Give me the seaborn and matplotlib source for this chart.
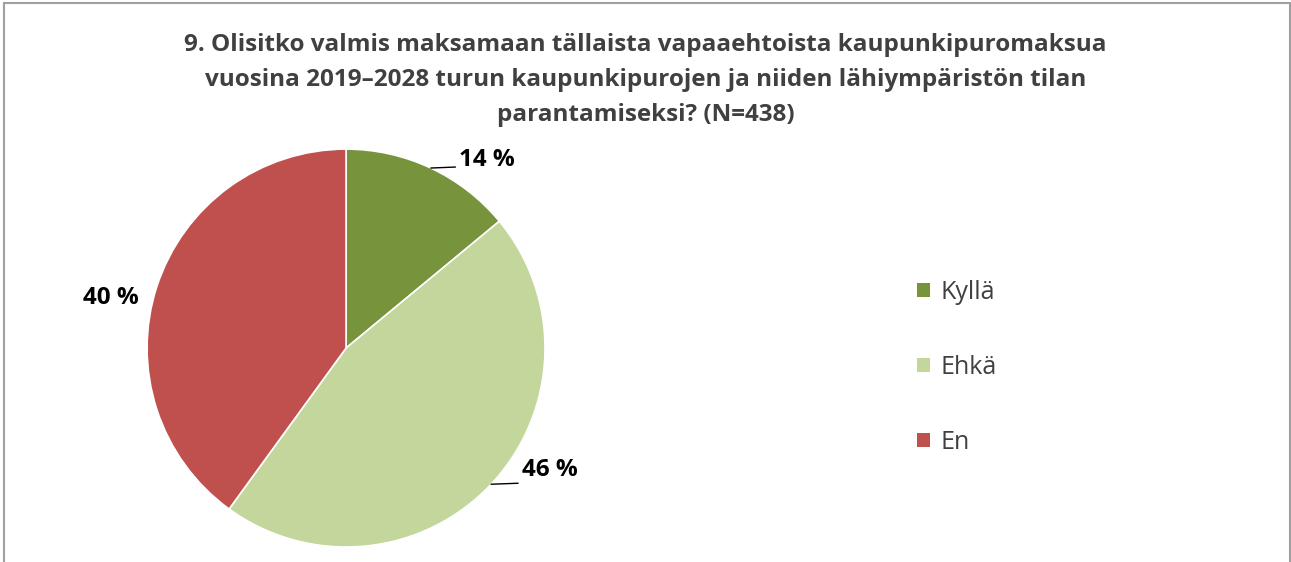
import matplotlib.pyplot as plt
from matplotlib.patches import Patch, Rectangle
import numpy as np
import seaborn as sns

sns.set_theme(style='white')
plt.rcParams['font.family'] = ['Open Sans', 'DejaVu Sans']

# data
categories = ['Kyllä', 'Ehkä', 'En']
shares = [14, 46, 40]
colors = sns.color_palette(['#77933C', '#C3D69B', '#C0504D'])
title = ('9. Olisitko valmis maksamaan tällaista vapaaehtoista kaupunkipuromaksua\n'
         'vuosina 2019–2028 turun kaupunkipurojen ja niiden lähiympäristön tilan\n'
         'parantamiseksi? (N=438)')

fig = plt.figure(figsize=(12.91, 5.62), dpi=100)
fig.patch.set_facecolor('white')

# outer chart frame (bottom edge falls outside the picture)
fig.patches.append(Rectangle((4 / 1291, -0.05), 1286 / 1291, 1.05 - 3 / 562,
                             transform=fig.transFigure, fill=False,
                             edgecolor='#a0a0a0', lw=1.5))

fig.text(0.5, 0.942, title, ha='center', va='top', fontsize=17.5,
         fontweight='bold', color='#404040', linespacing=1.63)

ax = fig.add_axes([0.1139, 0.0267, 0.3083, 0.708])
wedges, _ = ax.pie(shares, colors=colors, startangle=90, counterclock=False,
                   wedgeprops=dict(edgecolor='white', linewidth=1.2))
ax.set_xlim(-1, 1)
ax.set_ylim(-1, 1)
ax.set_aspect('equal')
ax.axis('off')

# labels: (text position in pie radius units, leader line or not)
label_pos = [(0.71, 0.945), (1.025, -0.615), (-1.18, 0.25)]
leaders = [True, True, False]
for w, v, pos, lead in zip(wedges, shares, label_pos, leaders):
    mid = np.deg2rad((w.theta1 + w.theta2) / 2)
    edge = (np.cos(mid), np.sin(mid))
    ax.text(pos[0], pos[1], f'{v} %', ha='center', va='center',
            fontsize=17.5, fontweight='bold', color='black')
    if lead:
        end = (pos[0] - 0.16, edge[1] + 0.005)
        ax.plot([edge[0], end[0]], [edge[1], end[1]], color='black', lw=1,
                clip_on=False)

handles = [Patch(facecolor=c, edgecolor='none') for c in colors]
fig.legend(handles, categories, loc='center left',
           bbox_to_anchor=(0.693, 0.346), frameon=False,
           fontsize=18, labelcolor='#404040', labelspacing=2.0,
           handlelength=0.5, handleheight=0.5, handletextpad=0.45)

plt.savefig('out.png', dpi=100)
